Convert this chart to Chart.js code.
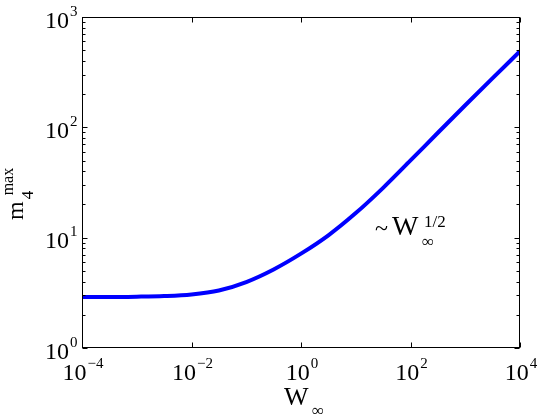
<!DOCTYPE html>
<html>
<head>
<meta charset="utf-8">
<script src="https://cdn.jsdelivr.net/npm/chart.js@4.4.0/dist/chart.umd.min.js"></script>
<style>
  html, body { margin: 0; padding: 0; background: #fff; }
  #wrap { width: 538px; height: 416px; }
</style>
</head>
<body>
<div id="wrap"><canvas id="chart" width="538" height="416"></canvas></div>
<script>
// W_inf (x) and m4_max (y), every half decade
const wValues = [1e-4, 3.162e-4, 1e-3, 3.162e-3, 1e-2, 3.162e-2, 0.1, 0.3162, 1, 3.162, 10, 31.62, 100, 316.2, 1000, 3162, 10000];
const m4Max = [2.90, 2.90, 2.92, 2.96, 3.06, 3.32, 3.96, 5.15, 7.16, 10.5, 16.7, 28.3, 50.1, 89.3, 158.5, 279, 489];

// ticks
const xTicks = [1e-4, 1e-2, 1, 1e2, 1e4];
const xTickExp = ['\u22124', '\u22122', '0', '2', '4'];
const yTicks = [1, 10, 100, 1000];
const yTickExp = ['0', '1', '2', '3'];

const serif = '"Liberation Serif", "Times New Roman", serif';

function drawPow(ctx, base, exp, x, y, align) {
    ctx.font = '24px ' + serif;
    const wb = ctx.measureText(base).width;
    ctx.font = '15px ' + serif;
    const we = ctx.measureText(exp).width;
    const total = wb + 1 + we;
    let start = align === 'right' ? x - total : x - total / 2;
    ctx.textAlign = 'left';
    ctx.font = '24px ' + serif;
    ctx.fillText(base, start, y);
    ctx.font = '15px ' + serif;
    ctx.fillText(exp, start + wb + 1, y - 12);
}

const matlabAxes = {
    id: 'matlabAxes',
    afterDraw(chart) {
        const {ctx, chartArea: a, scales: {x, y}} = chart;
        ctx.save();
        ctx.strokeStyle = '#000';
        ctx.fillStyle = '#000';
        ctx.lineWidth = 1;
        const L = Math.round(a.left) + 0.5, R = Math.round(a.right) - 0.5;
        const T = Math.round(a.top) + 0.5, B = Math.round(a.bottom) - 0.5;
        ctx.strokeRect(L, T, R - L, B - T);

        ctx.beginPath();
        xTicks.forEach(v => {
            const px = Math.round(x.getPixelForValue(v)) + 0.5;
            ctx.moveTo(px, B); ctx.lineTo(px, B - 5);
            ctx.moveTo(px, T); ctx.lineTo(px, T + 5);
        });
        yTicks.forEach((v, i) => {
            const py = Math.round(y.getPixelForValue(v)) + 0.5;
            ctx.moveTo(L, py); ctx.lineTo(L + 5, py);
            ctx.moveTo(R, py); ctx.lineTo(R - 5, py);
            if (i === yTicks.length - 1) return;
            for (let k = 2; k <= 9; k++) {
                const pm = Math.round(y.getPixelForValue(v * k)) + 0.5;
                ctx.moveTo(L, pm); ctx.lineTo(L + 3, pm);
                ctx.moveTo(R, pm); ctx.lineTo(R - 3, pm);
            }
        });
        ctx.stroke();

        // tick labels
        ctx.textBaseline = 'alphabetic';
        xTicks.forEach((v, i) => {
            drawPow(ctx, '10', xTickExp[i], x.getPixelForValue(v) + 1, B + 32.5, 'center');
        });
        yTicks.forEach((v, i) => {
            drawPow(ctx, '10', yTickExp[i], L - 5, y.getPixelForValue(v) + 10.5, 'right');
        });

        // x label W_inf
        ctx.textAlign = 'left';
        ctx.font = '26px ' + serif;
        ctx.fillText('W', 284, 405);
        ctx.font = '17px ' + serif;
        ctx.fillText('\u221E', 312, 416);

        // y label m_4^max
        ctx.save();
        ctx.translate(22.7, 220);
        ctx.rotate(-Math.PI / 2);
        ctx.font = '24px ' + serif;
        const wm = ctx.measureText('m').width;
        ctx.fillText('m', 0, 0);
        ctx.font = '17px ' + serif;
        ctx.fillText('4', wm + 2, 10);
        ctx.font = '16px ' + serif;
        ctx.fillText('max', wm + 6, -9.5);
        ctx.restore();

        // annotation ~ W_inf^(1/2)
        ctx.font = '24px ' + serif;
        ctx.fillText('~', 375, 236);
        ctx.font = '28px ' + serif;
        ctx.fillText('W', 392, 235);
        ctx.font = '17px ' + serif;
        ctx.fillText('1/2', 424, 227);
        ctx.fillText('\u221E', 422, 247);
        ctx.restore();
    }
};

new Chart(document.getElementById('chart'), {
    type: 'line',
    data: {
        labels: wValues,
        datasets: [{
            data: wValues.map((w, i) => ({x: w, y: m4Max[i]})),
            borderColor: '#0000ff',
            borderWidth: 4,
            pointRadius: 0,
            fill: false,
            cubicInterpolationMode: 'monotone'
        }]
    },
    options: {
        responsive: false,
        devicePixelRatio: 1,
        animation: false,
        layout: { padding: { left: 82, right: 18, top: 17, bottom: 68 } },
        plugins: { legend: { display: false }, tooltip: { enabled: false } },
        scales: {
            x: { type: 'logarithmic', min: 1e-4, max: 1e4, display: false },
            y: { type: 'logarithmic', min: 1, max: 1000, display: false }
        }
    },
    plugins: [matlabAxes]
});
</script>
</body>
</html>
